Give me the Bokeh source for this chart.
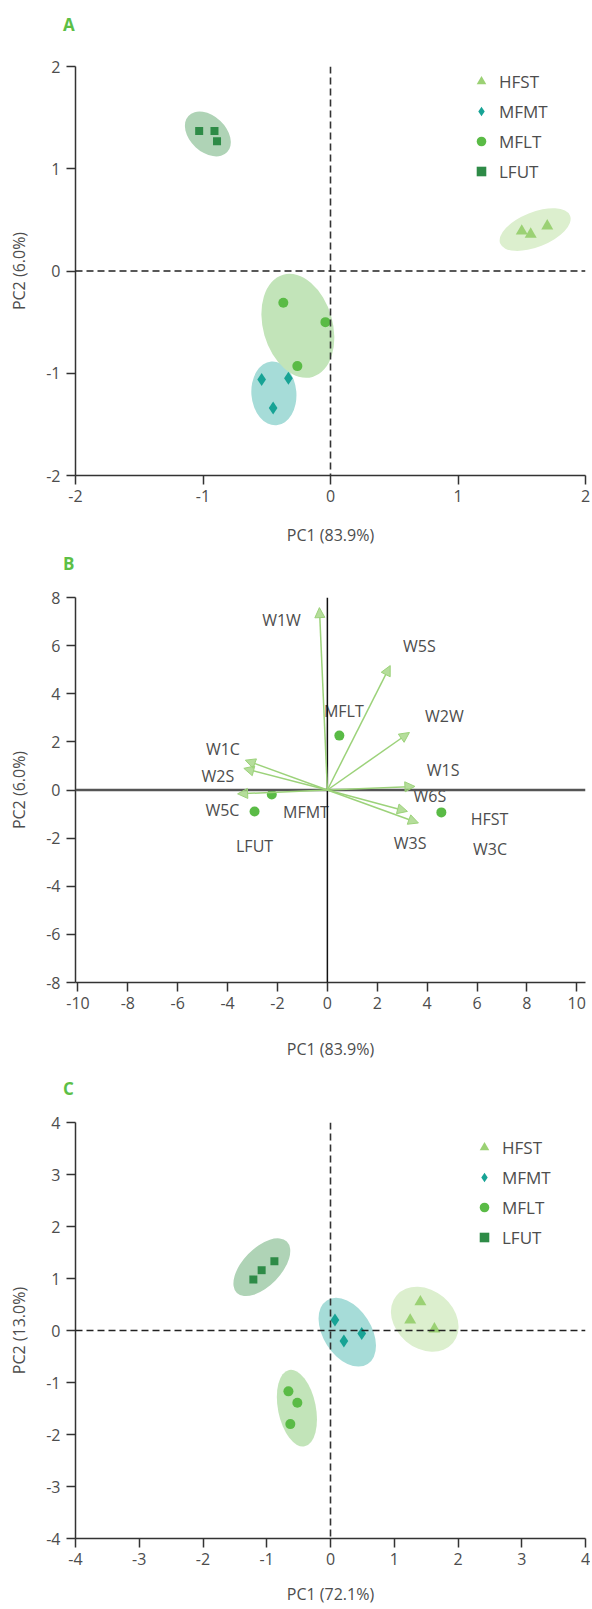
from bokeh.plotting import figure
from bokeh.models import (ColumnDataSource, Span, Legend, LegendItem, Title,
                          FixedTicker, Arrow, NormalHead, CustomJSTickFormatter)
from bokeh.layouts import column
from bokeh.embed import file_html
from bokeh.resources import INLINE
from bokeh.core.properties import value

# ---------------- data ----------------
groups = ["HFST", "MFMT", "MFLT", "LFUT"]

# Panel A : PCA scores (PC1 83.9 %, PC2 6.0 %)
a_hfst_pc1 = [1.50, 1.57, 1.70]
a_hfst_pc2 = [0.39, 0.36, 0.44]
a_mfmt_pc1 = [-0.54, -0.33, -0.45]
a_mfmt_pc2 = [-1.06, -1.05, -1.34]
a_mflt_pc1 = [-0.37, -0.04, -0.26]
a_mflt_pc2 = [-0.31, -0.50, -0.93]
a_lfut_pc1 = [-1.03, -0.91, -0.89]
a_lfut_pc2 = [1.37, 1.37, 1.27]
# group ellipses (HFST, MFMT, MFLT, LFUT)
a_ell_x = [1.605, -0.444, -0.256, -0.962]
a_ell_y = [0.405, -1.197, -0.536, 1.34]
a_ell_w = [0.59, 0.353, 0.545, 0.416]
a_ell_h = [0.34, 0.627, 1.04, 0.353]
a_ell_angle = [0.38, 0.08, 0.28, -0.75]

# Panel B : biplot
b_var_names = ["W1W", "W5S", "W2W", "W1S", "W6S", "W3S", "W1C", "W2S", "W5C"]
b_var_pc1 = [-0.32, 2.52, 3.29, 3.51, 3.21, 3.65, -3.29, -3.35, -3.60]
b_var_pc2 = [7.58, 5.17, 2.39, 0.15, -0.89, -1.37, 1.24, 0.90, -0.16]
b_varlab_names = ["W1W", "W5S", "W2W", "W1S", "W6S", "W3S", "W3C", "W1C", "W2S", "W5C"]
b_varlab_pc1 = [-1.84, 3.69, 4.69, 4.64, 4.11, 3.32, 6.52, -4.19, -4.39, -4.21]
b_varlab_pc2 = [7.06, 5.97, 3.06, 0.85, -0.26, -2.22, -2.44, 1.70, 0.58, -0.83]
b_obs_names = ["HFST", "MFMT", "MFLT", "LFUT"]
b_obs_pc1 = [4.57, -2.23, 0.48, -2.92]
b_obs_pc2 = [-0.93, -0.19, 2.26, -0.89]
b_obslab_pc1 = [6.50, -0.86, 0.66, -2.92]
b_obslab_pc2 = [-1.19, -0.92, 3.27, -2.34]

# Panel C : PCA scores (PC1 72.1 %, PC2 13.0 %)
c_hfst_pc1 = [1.25, 1.41, 1.63]
c_hfst_pc2 = [0.20, 0.55, 0.03]
c_mfmt_pc1 = [0.07, 0.21, 0.49]
c_mfmt_pc2 = [0.20, -0.20, -0.06]
c_mflt_pc1 = [-0.66, -0.52, -0.63]
c_mflt_pc2 = [-1.17, -1.39, -1.80]
c_lfut_pc1 = [-1.21, -1.08, -0.88]
c_lfut_pc2 = [0.98, 1.16, 1.33]
c_ell_x = [1.478, 0.263, -0.527, -1.077]
c_ell_y = [0.217, -0.033, -1.494, 1.217]
c_ell_w = [1.156, 1.187, 0.593, 1.124]
c_ell_h = [1.115, 0.923, 1.50, 0.73]
c_ell_angle = [-0.70, -1.0, 0.20, 0.80]

a_ticks_x = [-2, -1, 0, 1, 2]
a_ticks_y = [-2, -1, 0, 1, 2]
b_ticks_x = [-10, -8, -6, -4, -2, 0, 2, 4, 6, 8, 10]
b_ticks_y = [-8, -6, -4, -2, 0, 2, 4, 6, 8]
c_ticks_x = [-4, -3, -2, -1, 0, 1, 2, 3, 4]
c_ticks_y = [-4, -3, -2, -1, 0, 1, 2, 3, 4]

# ---------------- styles ----------------
FONT = "Open Sans"
TXT = "#4d4d4d"
AXC = "#333333"
PANEL_C = "#5cbf46"
MARKER_COL = {"HFST": "#9bd174", "MFMT": "#17a395", "MFLT": "#5abb46", "LFUT": "#2e8b47"}
ELL_COL = {"HFST": "#dcefce", "MFMT": "#a6dcd8", "MFLT": "#c2e4b9", "LFUT": "#afd3b6"}
ARROW_C = "#9cd27a"
W = 590


def make_fig(height, xr, yr, top, bottom, letter, gap):
    p = figure(width=W, height=height, x_range=xr, y_range=yr, title=None,
               output_backend="svg", toolbar_location=None,
               min_border_left=75, min_border_right=W - 585,
               min_border_top=top, min_border_bottom=bottom)
    p.outline_line_color = None
    p.grid.visible = False
    # spacer (nearest to the frame) then the panel letter above it
    p.add_layout(Title(text=" ", text_font_size="1px", standoff=gap), "above")
    p.add_layout(Title(text=letter, align="left", offset=-12.5, vertical_align="top",
                       standoff=0, text_font=FONT, text_font_style="bold",
                       text_font_size="17px", text_color=PANEL_C), "above")
    return p


def style_axes(p, xt, yt, xlab, ylab, x_als):
    for ax in (p.xaxis[0], p.yaxis[0]):
        ax.axis_line_color = AXC
        ax.axis_line_width = 1.5
        ax.major_tick_line_color = AXC
        ax.major_tick_line_width = 1.5
        ax.major_tick_out = 9
        ax.major_tick_in = 0
        ax.minor_tick_line_color = None
        ax.major_label_text_font = FONT
        ax.major_label_text_font_size = "16px"
        ax.major_label_text_color = TXT
        ax.axis_label_text_font = FONT
        ax.axis_label_text_font_size = "16px"
        ax.axis_label_text_color = TXT
        ax.axis_label_text_font_style = "normal"
        ax.formatter = CustomJSTickFormatter(code="return String(tick)")
    p.xaxis[0].ticker = FixedTicker(ticks=xt)
    p.yaxis[0].ticker = FixedTicker(ticks=yt)
    p.xaxis[0].axis_label = xlab
    p.yaxis[0].axis_label = ylab
    p.xaxis[0].major_label_standoff = 5
    p.yaxis[0].major_label_standoff = 6
    p.xaxis[0].axis_label_standoff = x_als
    p.yaxis[0].axis_label_standoff = 13


def score_panel(p, pts, ell, legend_loc):
    ex, ey, ew, eh, ea = ell
    p.ellipse(x="x", y="y", width="w", height="h", angle="a", fill_color="c",
              line_color=None,
              source=ColumnDataSource(dict(x=ex, y=ey, w=ew, h=eh, a=ea,
                                           c=[ELL_COL[g] for g in groups])))
    p.add_layout(Span(location=0, dimension="height", line_color="#333333",
                      line_width=1.6, line_dash="7 4"))
    p.add_layout(Span(location=0, dimension="width", line_color="#222222",
                      line_width=1.6, line_dash="7 4"))
    marker = {"HFST": ("triangle", 12), "MFMT": ("diamond", 13),
              "MFLT": ("circle", 10), "LFUT": ("square", 8)}
    items = []
    for g in groups:
        xs, ys = pts[g]
        m, s = marker[g]
        r = p.scatter(xs, ys, marker=m, size=s,
                      fill_color=MARKER_COL[g], line_color=None)
        items.append(LegendItem(label=g, renderers=[r]))
    lg = Legend(items=items, location=legend_loc, orientation="vertical",
                glyph_width=24, glyph_height=24, label_height=24, spacing=6,
                padding=0, margin=0, label_standoff=6,
                border_line_color=None, background_fill_alpha=0,
                label_text_font=FONT, label_text_font_size="17px",
                label_text_color=TXT)
    p.add_layout(lg)


# ---------------- Panel A ----------------
pa = make_fig(550, (-2, 2), (-2, 2), 66, 75, "A", 26)
score_panel(pa, {"HFST": (a_hfst_pc1, a_hfst_pc2), "MFMT": (a_mfmt_pc1, a_mfmt_pc2),
                 "MFLT": (a_mflt_pc1, a_mflt_pc2), "LFUT": (a_lfut_pc1, a_lfut_pc2)},
            (a_ell_x, a_ell_y, a_ell_w, a_ell_h, a_ell_angle), (394, 292))
style_axes(pa, a_ticks_x, a_ticks_y, "PC1 (83.9%)", "PC2 (6.0%)", 19)

# ---------------- Panel B ----------------
pb = make_fig(525, (-10.1, 10.35), (-8, 8), 47, 93, "B", 18)
pb.add_layout(Span(location=0, dimension="width", line_color="#555555", line_width=2.5))
pb.add_layout(Span(location=0, dimension="height", line_color="#111111", line_width=1.5))
arrow_src = ColumnDataSource(dict(x0=[0.0] * len(b_var_pc1), y0=[0.0] * len(b_var_pc2),
                                  x1=b_var_pc1, y1=b_var_pc2))
pb.add_layout(Arrow(x_start="x0", y_start="y0", x_end="x1", y_end="y1", source=arrow_src,
                    line_color=ARROW_C, line_width=1.5,
                    end=NormalHead(size=10, fill_color=ARROW_C, fill_alpha=0.75,
                                   line_color=ARROW_C, line_width=1)))
pb.scatter(b_obs_pc1, b_obs_pc2, marker="circle", size=10, fill_color=MARKER_COL["MFLT"],
           line_color=None)
pb.text(x="x", y="y", text="t",
        source=ColumnDataSource(dict(x=b_varlab_pc1 + b_obslab_pc1,
                                     y=b_varlab_pc2 + b_obslab_pc2,
                                     t=b_varlab_names + b_obs_names)),
        text_font=value(FONT), text_font_size=value("16px"), text_color=TXT,
        text_align="center", text_baseline="middle")
style_axes(pb, b_ticks_x, b_ticks_y, "PC1 (83.9%)", "PC2 (6.0%)", 26)

# ---------------- Panel C ----------------
pc = make_fig(534, (-4, 4), (-4, 4), 47, 71, "C", 18)
score_panel(pc, {"HFST": (c_hfst_pc1, c_hfst_pc2), "MFMT": (c_mfmt_pc1, c_mfmt_pc2),
                 "MFLT": (c_mflt_pc1, c_mflt_pc2), "LFUT": (c_lfut_pc1, c_lfut_pc2)},
            (c_ell_x, c_ell_y, c_ell_w, c_ell_h, c_ell_angle), (397, 289))
style_axes(pc, c_ticks_x, c_ticks_y, "PC1 (72.1%)", "PC2 (13.0%)", 15)

layout = column(pa, pb, pc, spacing=0)
open("out.html", "w").write(file_html(layout, INLINE))
